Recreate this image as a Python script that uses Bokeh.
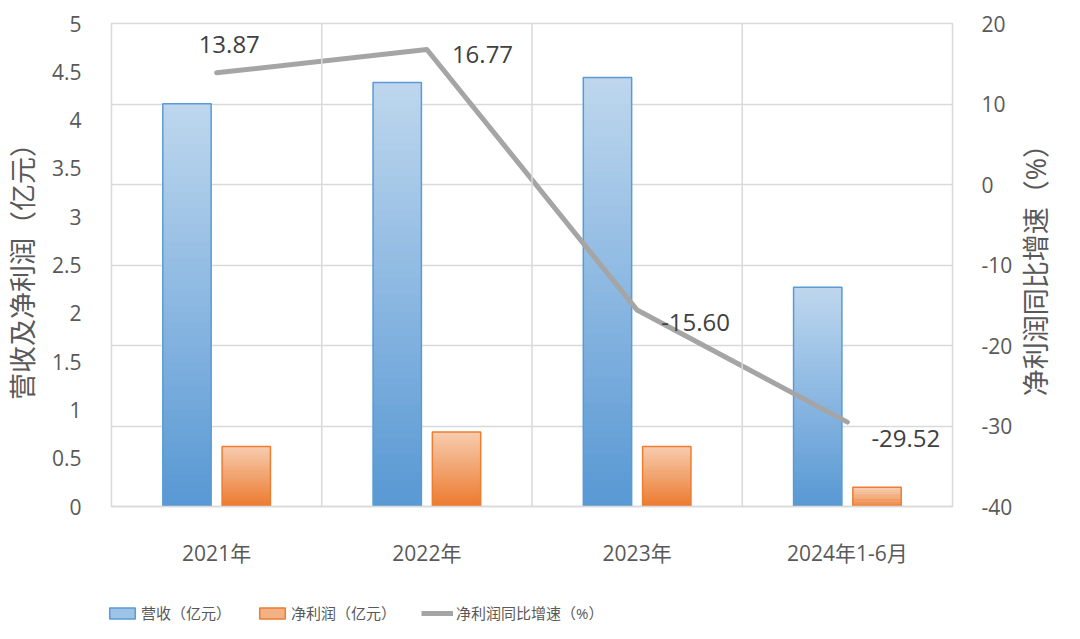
import math
from bokeh.plotting import figure
from bokeh.layouts import column, row
from bokeh.models import (ColumnDataSource, Range1d, LinearAxis, FixedTicker, NumeralTickFormatter,
                          Grid, Span, Legend, LegendItem, FactorRange)
from bokeh.core.properties import value
from bokeh.transform import dodge
from bokeh.embed import file_html
from bokeh.resources import INLINE

# ---------------- data ----------------
categories = ["2021年", "2022年", "2023年", "2024年1-6月"]
revenue = [4.17, 4.39, 4.44, 2.27]          # 营收（亿元）
net_profit = [0.62, 0.77, 0.62, 0.20]       # 净利润（亿元）
profit_growth = [13.87, 16.77, -15.60, -29.52]  # 净利润同比增速（%）
left_ticks = [0, 0.5, 1, 1.5, 2, 2.5, 3, 3.5, 4, 4.5, 5]
right_ticks = [-40, -30, -20, -10, 0, 10, 20]
series_names = ["营收（亿元）", "净利润（亿元）", "净利润同比增速（%）"]
left_title = "营收及净利润（亿元）"
right_title = "净利润同比增速（%）"

# label placement (style)
label_dx = [-18, 25, 24, 24]
label_dy = [-28, 5, 12, 16]

FONT = "'Open Sans', 'Noto Sans CJK SC', sans-serif"
AXIS_COLOR = "#595959"
GRID_COLOR = "#D9D9D9"
NAN = float("nan")
SIDE_W = 47

p = figure(x_range=FactorRange(factors=categories, range_padding=0),
           y_range=Range1d(0, 5),
           width=1064 - SIDE_W, height=585, output_backend="svg", toolbar_location=None,
           min_border_left=101, min_border_right=65, min_border_top=23, min_border_bottom=79)
p.extra_y_ranges = {"pct": Range1d(-40, 20)}
p.outline_line_color = GRID_COLOR
p.outline_line_width = 1.5
p.xgrid.visible = False
p.ygrid.visible = False
p.background_fill_color = "white"
p.border_fill_color = "white"

# grid lines (aligned to the right axis ticks)
p.add_layout(Grid(dimension=1, ticker=FixedTicker(ticks=right_ticks), y_range_name="pct",
                  grid_line_color=GRID_COLOR, grid_line_width=1.5))
for i in range(1, len(categories)):
    p.add_layout(Span(location=i, dimension="height", line_color=GRID_COLOR, line_width=1.5))


# gradient bars built from overlapping slices
def hex_interp(c0, c1, t):
    return "#%02x%02x%02x" % tuple(int(round(a + (b - a) * t)) for a, b in zip(c0, c1))


def gradient_source(values, bottom_rgb, top_rgb, n=50):
    xs, bs, ts, cs = [], [], [], []
    for cat, v in zip(categories, values):
        for k in range(n):
            xs.append(cat)
            bs.append(v * k / n)
            ts.append(min(v, v * (k + 1.6) / n))
            cs.append(hex_interp(bottom_rgb, top_rgb, (k + 0.5) / n))
    return ColumnDataSource(dict(cat=xs, b=bs, t=ts, c=cs))


BAR_W = 0.23
OFF = 0.141
src_rev = gradient_source(revenue, (88, 152, 212), (190, 215, 238))
src_np = gradient_source(net_profit, (236, 122, 46), (247, 204, 175))
p.vbar(x=dodge("cat", -OFF, range=p.x_range), bottom="b", top="t", width=BAR_W,
       fill_color="c", line_color=None, source=src_rev)
p.vbar(x=dodge("cat", OFF, range=p.x_range), bottom="b", top="t", width=BAR_W,
       fill_color="c", line_color=None, source=src_np)

bars = ColumnDataSource(dict(cat=categories, rev=revenue, np_=net_profit))
p.vbar(x=dodge("cat", -OFF, range=p.x_range), top="rev", width=BAR_W, fill_color=None,
       line_color="#5B9BD5", line_width=1.5, source=bars)
p.vbar(x=dodge("cat", OFF, range=p.x_range), top="np_", width=BAR_W, fill_color=None,
       line_color="#ED7D31", line_width=1.5, source=bars)

# growth line
line_src = ColumnDataSource(dict(cat=categories, pct=profit_growth,
                                 lbl=["%.2f" % v for v in profit_growth],
                                 dx=label_dx, dy=label_dy))
p.line(x="cat", y="pct", y_range_name="pct", line_color="#A5A5A5", line_width=5,
       line_cap="round", line_join="round", source=line_src)
p.text(x="cat", y="pct", text="lbl", y_range_name="pct", x_offset="dx", y_offset="dy",
       text_align="left", text_baseline="middle", text_font_size="24px",
       text_color="#404040", text_font=value(FONT), source=line_src)

# axes
xa = p.xaxis[0]
xa.major_label_text_font_size = "21px"
xa.major_label_text_color = AXIS_COLOR
xa.major_label_text_font = FONT
xa.major_label_standoff = 26
xa.major_tick_line_color = None
xa.minor_tick_line_color = None
xa.axis_line_color = GRID_COLOR
xa.axis_line_width = 1.5

ly = p.yaxis[0]
ly.ticker = FixedTicker(ticks=left_ticks)
ly.formatter = NumeralTickFormatter(format="0.[0]")
ly.axis_label = left_title
ly.axis_label_text_font_size = "27px"
ly.axis_label_text_font_style = "normal"
ly.axis_label_text_color = AXIS_COLOR
ly.axis_label_text_font = FONT
ly.axis_label_standoff = 8
ly.major_label_text_font_size = "21px"
ly.major_label_text_color = AXIS_COLOR
ly.major_label_text_font = FONT
ly.major_label_standoff = 24
ly.major_tick_line_color = None
ly.minor_tick_line_color = None
ly.axis_line_color = None

ry = LinearAxis(y_range_name="pct", ticker=FixedTicker(ticks=right_ticks))
ry.major_label_overrides = {t: str(t) for t in right_ticks}
ry.major_label_text_font_size = "21px"
ry.major_label_text_color = AXIS_COLOR
ry.major_label_text_font = FONT
ry.major_label_standoff = 23
ry.major_tick_line_color = None
ry.minor_tick_line_color = None
ry.axis_line_color = None
p.add_layout(ry, "right")

# ---------------- right axis title strip ----------------
ps = figure(width=SIDE_W, height=585, x_range=Range1d(0, 1), y_range=Range1d(0, 1),
            x_axis_type=None, y_axis_type=None, output_backend="svg", toolbar_location=None,
            min_border_left=0, min_border_right=0, min_border_top=0, min_border_bottom=0)
ps.grid.visible = False
ps.outline_line_color = None
ps.background_fill_color = "white"
ps.border_fill_color = "white"
ps.text(x=[0.38], y=[0.503], text=[right_title], angle=math.pi / 2,
        text_align="center", text_baseline="middle", text_font_size="27px",
        text_color=AXIS_COLOR, text_font=value(FONT))

# ---------------- legend strip ----------------
pl = figure(width=1064, height=46, x_range=Range1d(0, 1), y_range=Range1d(0, 1),
            x_axis_type=None, y_axis_type=None,
            output_backend="svg", toolbar_location=None,
            min_border_left=0, min_border_right=0, min_border_top=0, min_border_bottom=0)
pl.grid.visible = False
pl.outline_line_color = None
pl.background_fill_color = "white"
pl.border_fill_color = "white"
# proxy renderers (NaN data: nothing drawn in the plot, only legend swatches)
r1 = pl.vbar(x=[NAN], top=[NAN], width=0.2, fill_color="#9DC3E6", line_color="#5B9BD5", line_width=1.5)
r2 = pl.vbar(x=[NAN], top=[NAN], width=0.2, fill_color="#F4B183", line_color="#ED7D31", line_width=1.5)
r3 = pl.line(x=[NAN, NAN], y=[NAN, NAN], line_color="#A5A5A5", line_width=5)
legend = Legend(items=[LegendItem(label=series_names[0], renderers=[r1]),
                       LegendItem(label=series_names[1], renderers=[r2]),
                       LegendItem(label=series_names[2], renderers=[r3])],
                orientation="horizontal", location=(106, 8),
                glyph_width=32, glyph_height=14, label_standoff=3, spacing=25,
                padding=0, margin=0, border_line_color=None, background_fill_alpha=0,
                label_text_font_size="15px", label_text_color=AXIS_COLOR, label_text_font=FONT)
pl.add_layout(legend, "center")

layout = column(row(p, ps, spacing=0), pl, spacing=0)
open("out.html", "w").write(file_html(layout, INLINE))
